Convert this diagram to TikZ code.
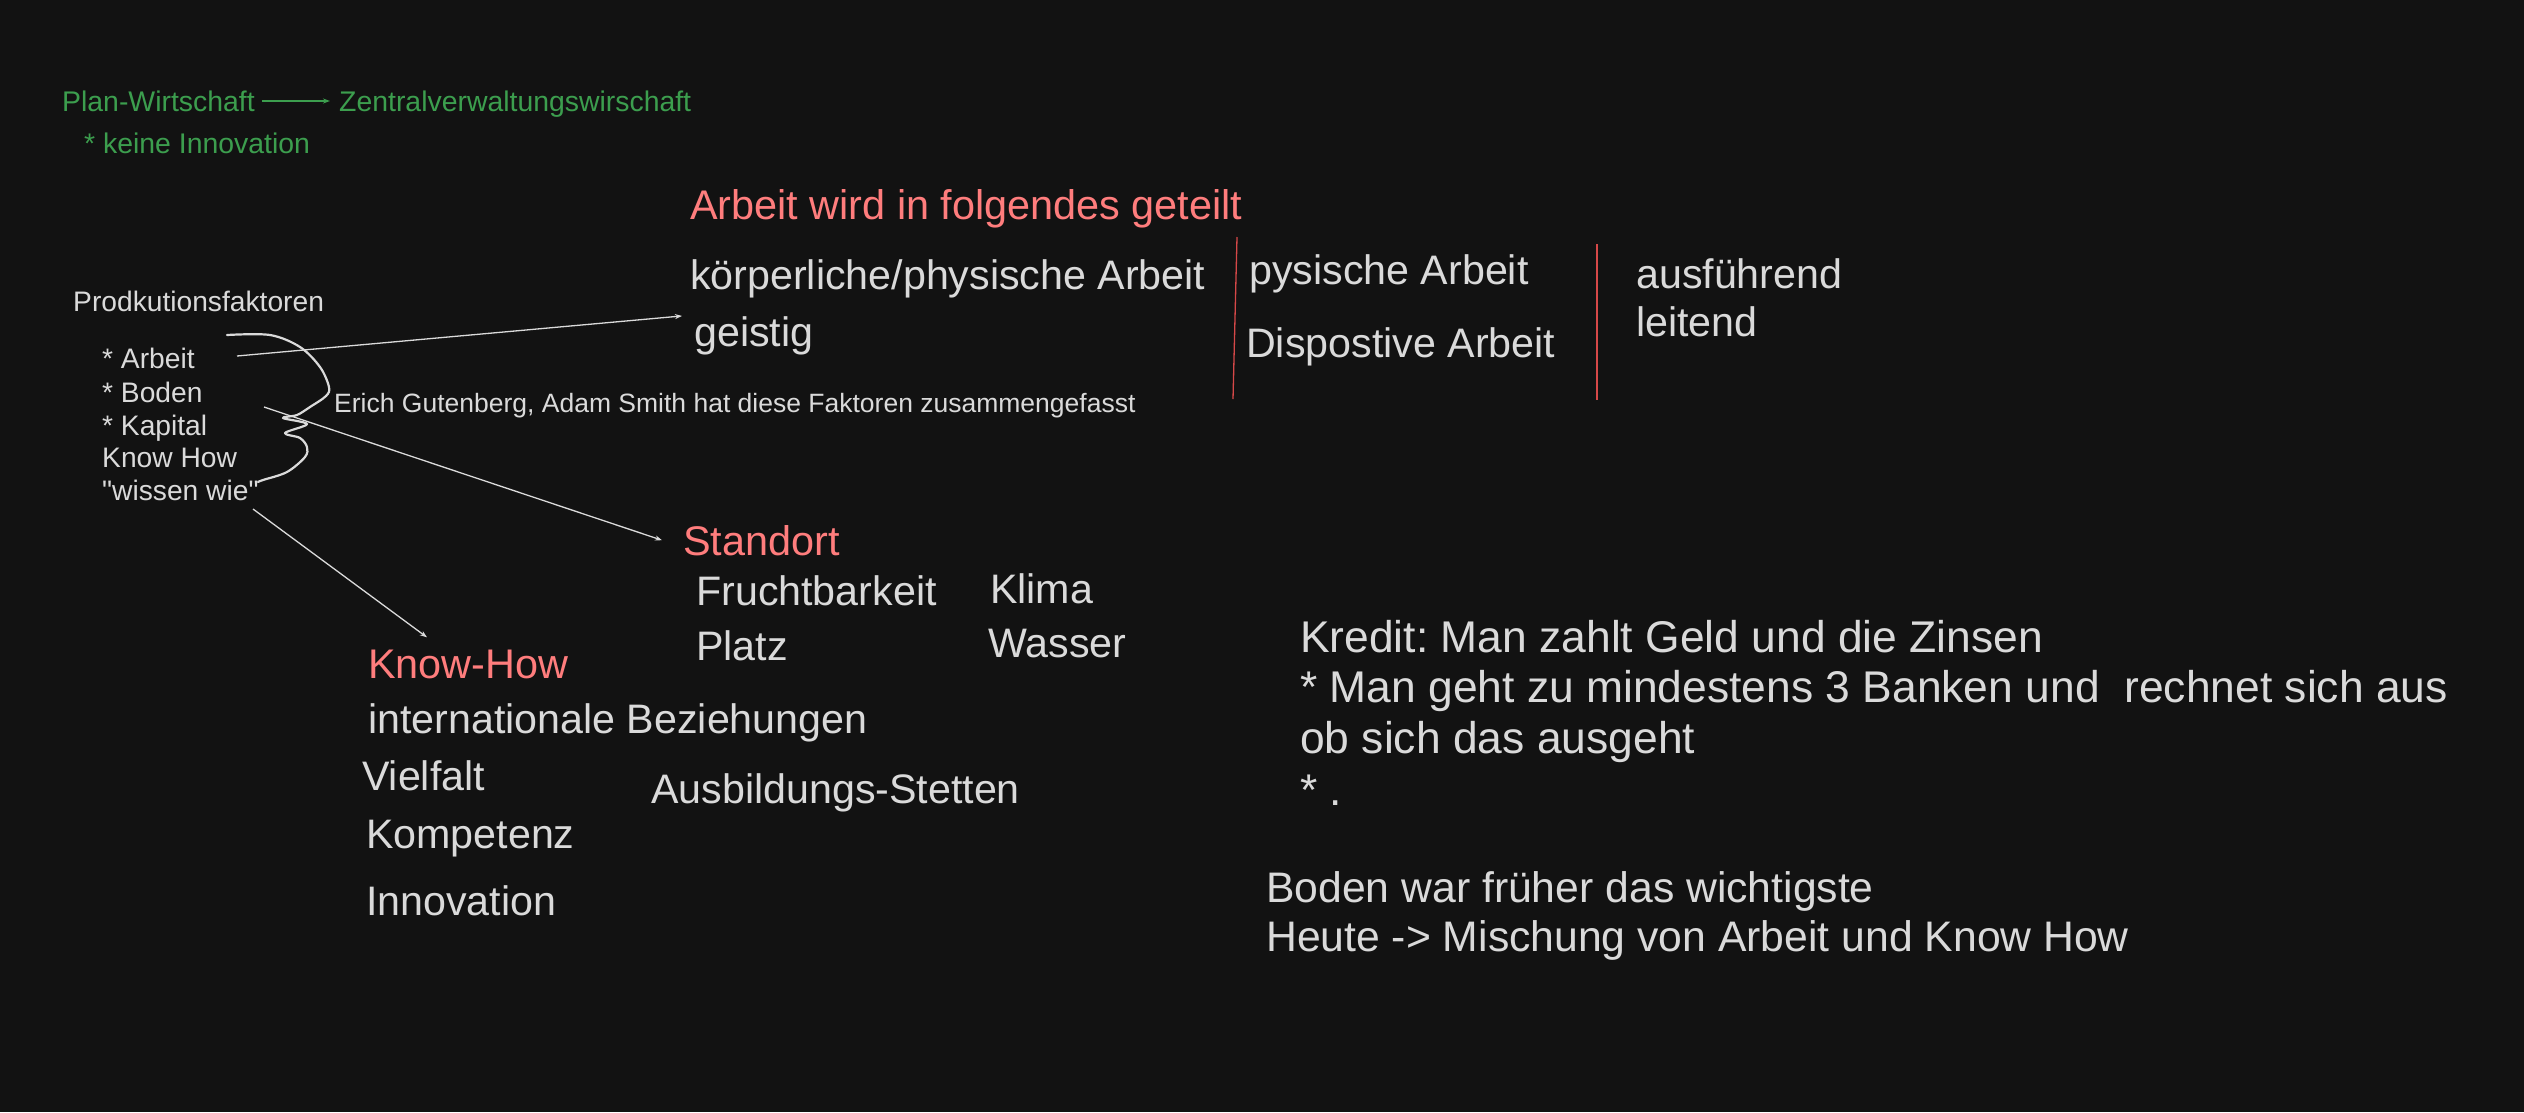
\documentclass[tikz,border=0pt]{standalone}
\usepackage{fontspec}
\setmainfont{Liberation Sans}
\usetikzlibrary{positioning}
\usetikzlibrary{calc}
\usetikzlibrary{arrows.meta}
\definecolor{board}{RGB}{18,18,18}
\definecolor{chalk}{RGB}{218,218,218}
\definecolor{salmon}{RGB}{255,125,125}
\definecolor{leaf}{RGB}{60,158,78}
\definecolor{divider}{RGB}{214,72,72}
\frenchspacing
\tikzset{
    every node/.style={anchor=base west, inner sep=0pt},
    small/.style={font=\fontsize{28.2}{33}\selectfont, text=chalk},
    green/.style={font=\fontsize{28.4}{33}\selectfont, text=leaf},
    big/.style={font=\fontsize{41.2}{48}\selectfont, text=chalk},
    head/.style={font=\fontsize{41.4}{48}\selectfont, text=salmon},
    note/.style={font=\fontsize{44.4}{50}\selectfont, text=chalk},
    conn/.style={draw=chalk, line width=1.3pt, -{Stealth[length=7pt, width=5pt]}},
}

\begin{document}
\begin{tikzpicture}[x=1pt, y=-1pt]
    \fill[board] (0,0) rectangle (2524,1112);
    \useasboundingbox (0,0) rectangle (2524,1112);

    % Planwirtschaft
    \node[green] (plan) at (62,111) {Plan-Wirtschaft};
    \node[green] (zentral) at (339,111) {Zentralverwaltungswirschaft};
    \node[green] (keineinno) at (84,153) {* keine Innovation};
    \draw[draw=leaf, line width=1.2pt, -{Stealth[length=7pt, width=5pt]}]
        ([shift={(7pt,10pt)}]plan.base east) -- ([shift={(-9pt,10pt)}]zentral.base west);

    % Produktionsfaktoren
    \node[small] (prod) at (73,311) {Prodkutionsfaktoren};
    \node[small] (farbeit) at (102,368) {* Arbeit};
    \node[small] (fboden) at (102,402) {* Boden};
    \node[small] (fkapital) at (102,435) {* Kapital};
    \node[small] (fknow) at (102,467) {Know How};
    \node[small] (fwissen) at (102,500) {\textquotedbl wissen wie\textquotedbl};
    \draw[chalk, line width=2.2pt, line cap=round, line join=round]
        plot[smooth, tension=0.55] coordinates {(227,335) (270,335) (300,347) (320,367)
        (329,387) (326,396) (310,407) (297,415) (283,418) (307,424) (285,433)
        (300,438) (307,447) (305,457) (287,472) (263,480) (258,482)};
    \node[font=\fontsize{26.5}{30}\selectfont, text=chalk] (erich) at (334,412)
        {Erich Gutenberg, Adam Smith hat diese Faktoren zusammengefasst};

    % Arbeit
    \node[head] (arbeithead) at (690,219) {Arbeit wird in folgendes geteilt};
    \node[big] (koerper) at (690,289) {körperliche/physische Arbeit};
    \node[big] (geistig) at (694,346) {geistig};
    \node[big] (pysisch) at (1249,284) {pysische Arbeit};
    \node[big] (dispo) at (1246,357) {Dispostive Arbeit};
    \node[big] (ausf) at (1636,288) {ausführend};
    \node[big] (leitend) at (1636,336) {leitend};
    \draw[divider, line width=1.3pt] (1237,237) -- (1233,399);
    \draw[divider, line width=1.3pt] (1597,244) -- (1597,400);

    % Standort
    \node[head] (standort) at (683,555) {Standort};
    \node[big] (frucht) at (696,605) {Fruchtbarkeit};
    \node[big] (platz) at (696,660) {Platz};
    \node[big] (klima) at (990,603) {Klima};
    \node[big] (wasser) at (988,657) {Wasser};

    % Know-How
    \node[head] (knowhow) at (368,678) {Know-How};
    \node[big] (intl) at (368,733) {internationale Beziehungen};
    \node[big] (vielfalt) at (362,790) {Vielfalt};
    \node[big] (ausbild) at (651,803) {Ausbildungs-Stetten};
    \node[big] (kompetenz) at (366,848) {Kompetenz};
    \node[big] (innovation) at (366,915) {Innovation};

    % Verbindungen
    \coordinate (arbeittail) at (237,356);
    \coordinate (bodentail) at (264,407);
    \coordinate (wissentail) at (253,509);
    \draw[conn] (arbeittail) -- ([xshift=-12pt]geistig.north west);
    \draw[conn] (bodentail) -- ([xshift=-21pt]standort.west);
    \draw[conn] (wissentail) -- ([shift={(59pt,12pt)}]knowhow.north west);

    % Kredit
    \node[note] (kredit) at (1300,652) {Kredit: Man zahlt Geld und die Zinsen};
    \node[note] (banken) at (1300,702) {* Man geht zu mindestens 3 Banken und\ \ rechnet sich aus};
    \node[note] (obsich) at (1300,753) {ob sich das ausgeht};
    \node[note] (stern) at (1300,805) {* .};
    \node[note, font=\fontsize{42.7}{50}\selectfont] (bodenwar) at (1266,902) {Boden war früher das wichtigste};
    \node[note, font=\fontsize{42.7}{50}\selectfont] (heute) at (1266,951) {Heute -> Mischung von Arbeit und Know How};
\end{tikzpicture}
\end{document}
